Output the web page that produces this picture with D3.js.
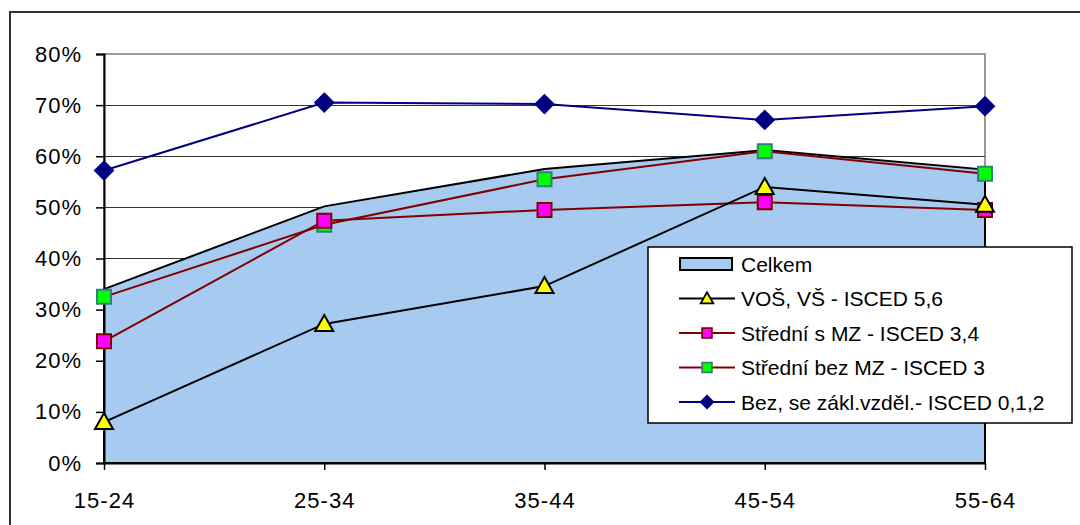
<!DOCTYPE html>
<html>
<head>
<meta charset="utf-8">
<script src="https://cdn.jsdelivr.net/npm/d3@7"></script>
<style>
  html, body { margin: 0; padding: 0; background: #fff; }
  svg { display: block; font-family: "Liberation Sans", Arial, sans-serif; }
</style>
</head>
<body>
<svg id="chart" width="1080" height="525"></svg>
<script>
// ---- data ----
const categories = ["15-24", "25-34", "35-44", "45-54", "55-64"];
const celkem   = [34.0, 50.2, 57.5, 61.2, 57.4];
const vos      = [8.0, 27.2, 34.6, 54.0, 50.5];
const stredniS = [23.8, 47.4, 49.5, 51.0, 49.5];
const stredniB = [32.5, 46.6, 55.5, 61.0, 56.6];
const bezZakl  = [57.2, 70.5, 70.2, 67.1, 69.8];
const yTicks   = [0, 10, 20, 30, 40, 50, 60, 70, 80];
const legendLabels = ["Celkem", "VOŠ, VŠ - ISCED 5,6", "Střední s MZ - ISCED 3,4",
                      "Střední bez MZ - ISCED 3", "Bez, se zákl.vzděl.- ISCED 0,1,2"];

const svg = d3.select("#chart");
const x = d3.scalePoint().domain(categories).range([104, 985]);
const y = d3.scaleLinear().domain([0, 80]).range([463, 54]);

// outer chart border
svg.append("rect").attr("x", 10).attr("y", 12).attr("width", 1100).attr("height", 600)
  .attr("fill", "none").attr("stroke", "#333").attr("stroke-width", 2);

// plot area border (gray)
svg.append("rect").attr("x", x(categories[0])).attr("y", y(80))
  .attr("width", x(categories[4]) - x(categories[0])).attr("height", y(0) - y(80))
  .attr("fill", "none").attr("stroke", "#999").attr("stroke-width", 2);

// gridlines
svg.append("g").selectAll("line").data(yTicks.slice(1, -1)).join("line")
  .attr("x1", x(categories[0])).attr("x2", x(categories[4]))
  .attr("y1", d => y(d)).attr("y2", d => y(d))
  .attr("stroke", "#333").attr("stroke-width", 1).attr("shape-rendering", "crispEdges");

// area
const area = d3.area().x((d, i) => x(categories[i])).y0(y(0)).y1(d => y(d));
svg.append("path").datum(celkem).attr("d", area)
  .attr("fill", "#A6CAF0").attr("stroke", "#000").attr("stroke-width", 2);

// axes
const yAxis = d3.axisLeft(y).tickValues(yTicks).tickFormat(d => d + "%").tickSize(8).tickPadding(14);
const gy = svg.append("g").attr("transform", `translate(${x(categories[0])},0)`).call(yAxis);
gy.select(".domain").attr("stroke", "#000").attr("stroke-width", 2);
gy.selectAll(".tick line").attr("stroke", "#000").attr("stroke-width", 1.5);
gy.selectAll("text").attr("font-size", 22).attr("fill", "#000").attr("letter-spacing", "1px")
  .attr("font-family", "Liberation Sans, Arial, sans-serif").attr("dy", "0.32em");

const xAxis = d3.axisBottom(x).tickSize(7).tickPadding(22).tickSizeOuter(0);
const gx = svg.append("g").attr("transform", `translate(0,${y(0)})`).call(xAxis);
gx.select(".domain").attr("stroke", "#000").attr("stroke-width", 2);
gx.selectAll(".tick line").attr("stroke", "#000").attr("stroke-width", 1.5);
gx.selectAll("text").attr("font-size", 22).attr("fill", "#000").attr("letter-spacing", "1px")
  .attr("font-family", "Liberation Sans, Arial, sans-serif");

// series
const line = d3.line().x((d, i) => x(categories[i])).y(d => y(d));
const series = [
  { data: bezZakl,  color: "#000080", marker: "diamond",  fill: "#000080", mstroke: "#000080" },
  { data: stredniB, color: "#800000", marker: "square",   fill: "#00FF00", mstroke: "#2F7F7F" },
  { data: stredniS, color: "#800000", marker: "square",   fill: "#FF00FF", mstroke: "#800000" },
  { data: vos,      color: "#000000", marker: "triangle", fill: "#FFFF00", mstroke: "#000000" }
];

function markerPath(type) {
  if (type === "diamond") return "M0,-9 L9,0 L0,9 L-9,0 Z";
  if (type === "square") return "M-7,-7 H7 V7 H-7 Z";
  return "M0,-9 L9,7 L-9,7 Z";
}

series.forEach(s => {
  svg.append("path").datum(s.data).attr("d", line)
    .attr("fill", "none").attr("stroke", s.color).attr("stroke-width", 2);
});
series.forEach(s => {
  svg.append("g").selectAll("path").data(s.data).join("path")
    .attr("transform", (d, i) => `translate(${x(categories[i])},${y(d)})`)
    .attr("d", markerPath(s.marker))
    .attr("fill", s.fill).attr("stroke", s.mstroke).attr("stroke-width", 2);
});

// legend
const lg = svg.append("g");
lg.append("rect").attr("x", 648).attr("y", 247).attr("width", 424).attr("height", 176)
  .attr("fill", "#fff").attr("stroke", "#000").attr("stroke-width", 1.5);
const legendY = [264, 298.5, 333, 367.5, 402];
const legendSpec = [
  { type: "area" },
  { type: "line", color: "#000000", marker: "triangle", fill: "#FFFF00", mstroke: "#000" },
  { type: "line", color: "#800000", marker: "square", fill: "#FF00FF", mstroke: "#800000" },
  { type: "line", color: "#800000", marker: "square", fill: "#00FF00", mstroke: "#2F7F7F" },
  { type: "line", color: "#000080", marker: "diamond", fill: "#000080", mstroke: "#000080" }
];
legendSpec.forEach((s, i) => {
  const cy = legendY[i];
  if (s.type === "area") {
    lg.append("rect").attr("x", 680).attr("y", cy - 6).attr("width", 52).attr("height", 12)
      .attr("fill", "#A6CAF0").attr("stroke", "#000").attr("stroke-width", 2);
  } else {
    lg.append("line").attr("x1", 679).attr("x2", 735).attr("y1", cy).attr("y2", cy)
      .attr("stroke", s.color).attr("stroke-width", 2);
    lg.append("path").attr("transform", `translate(707,${cy}) scale(0.7)`)
      .attr("d", markerPath(s.marker)).attr("fill", s.fill).attr("stroke", s.mstroke).attr("stroke-width", 2.5);
  }
  lg.append("text").attr("x", 741).attr("y", cy).attr("dy", "0.36em")
    .attr("font-size", 21).attr("fill", "#000").text(legendLabels[i]);
});
</script>
</body>
</html>
